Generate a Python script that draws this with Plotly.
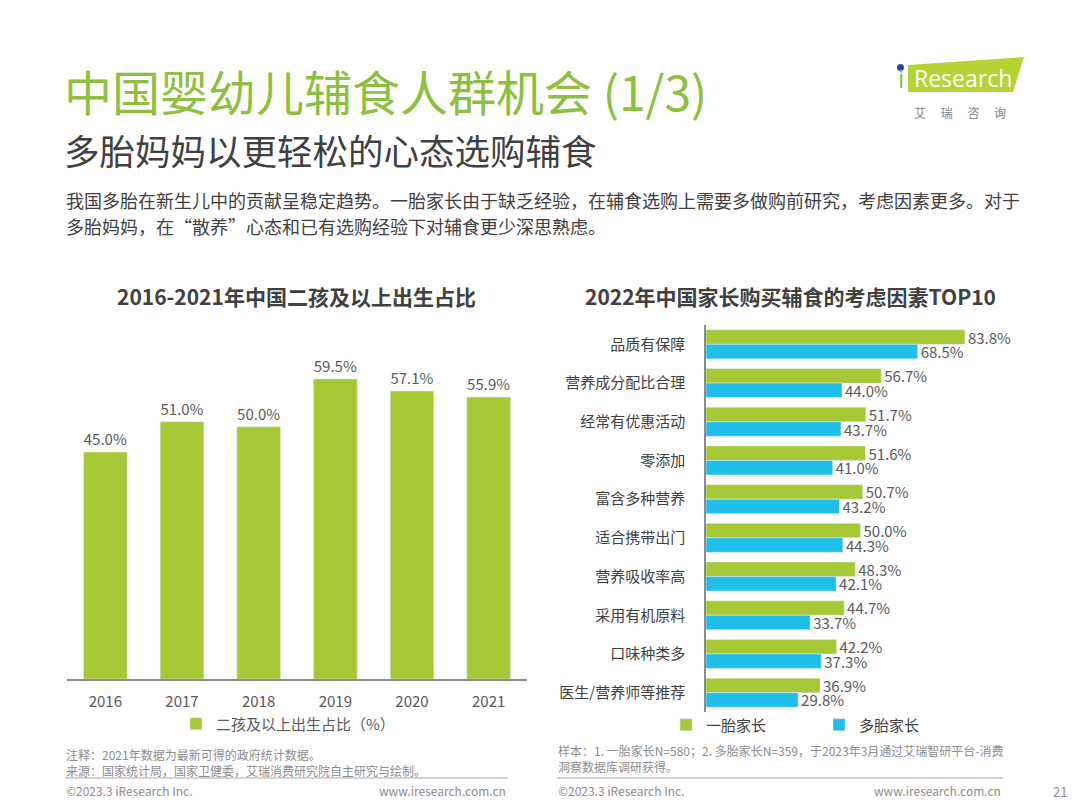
import plotly.graph_objects as go

# ---- data ----
years = ["2016", "2017", "2018", "2019", "2020", "2021"]
second_child_share = [45.0, 51.0, 50.0, 59.5, 57.1, 55.9]

factors = ["品质有保障", "营养成分配比合理", "经常有优惠活动", "零添加", "富含多种营养",
           "适合携带出门", "营养吸收率高", "采用有机原料", "口味种类多", "医生/营养师等推荐"]
first_child_parents = [83.8, 56.7, 51.7, 51.6, 50.7, 50.0, 48.3, 44.7, 42.2, 36.9]
multi_child_parents = [68.5, 44.0, 43.7, 41.0, 43.2, 44.3, 42.1, 33.7, 37.3, 29.8]

GREEN = "#A5C834"
BLUE = "#20BFEA"
TITLE_GREEN = "#8DC03F"
DARK = "#404040"
GRAY = "#595959"
LIGHT = "#8C8C8C"
FONT = "Noto Sans CJK SC"

# the page body keeps an 8px margin, so the figure is 8px smaller and
# every position is given in window pixels and shifted back here
OFF = 8
W, H = 1080 - OFF, 810 - OFF


def px(x):
    return (x - OFF) / W


def py(y):
    return 1 - (y - OFF) / H


fig = go.Figure()

fig.add_trace(go.Bar(
    x=years, y=second_child_share, name="二孩及以上出生占比（%）",
    marker_color=GREEN, text=[f"{v:.1f}%" for v in second_child_share],
    textposition="outside", textfont=dict(size=15, color=GRAY),
    width=0.57, cliponaxis=False, xaxis="x", yaxis="y",
    legend="legend", showlegend=True,
))

fig.add_trace(go.Bar(
    y=factors, x=first_child_parents, name="一胎家长", orientation="h",
    marker_color=GREEN, text=[f"{v:.1f}%" for v in first_child_parents],
    textposition="outside", textfont=dict(size=15, color=GRAY),
    constraintext="none", cliponaxis=False, xaxis="x2", yaxis="y2",
    legend="legend2", showlegend=True,
))
fig.add_trace(go.Bar(
    y=factors, x=multi_child_parents, name="多胎家长", orientation="h",
    marker_color=BLUE, text=[f"{v:.1f}%" for v in multi_child_parents],
    textposition="outside", textfont=dict(size=15, color=GRAY),
    constraintext="none", cliponaxis=False, xaxis="x2", yaxis="y2",
    legend="legend2", showlegend=True,
))

fig.update_layout(
    width=W, height=H,
    margin=dict(l=0, r=0, t=0, b=0),
    paper_bgcolor="white", plot_bgcolor="white",
    font=dict(family=FONT, color=GRAY),
    showlegend=True,
    barmode="group", bargap=0.25, bargroupgap=0,
    xaxis=dict(domain=[px(67), px(527)], showline=True, linecolor="#8C8C8C",
               linewidth=1.5, ticks="", ticklabelstandoff=8,
               tickfont=dict(size=15, color=GRAY), showgrid=False),
    yaxis=dict(domain=[py(679), py(326)], range=[0, 70], visible=False,
               showgrid=False, zeroline=False),
    xaxis2=dict(domain=[px(706), px(1015)], range=[0, 100], visible=False,
                showgrid=False, zeroline=False),
    yaxis2=dict(domain=[py(712), py(325)], autorange="reversed", anchor="x2",
                showline=True, linecolor="#8C8C8C", linewidth=1.5, ticks="",
                ticklabelstandoff=16, tickfont=dict(size=15, color=DARK),
                showgrid=False),
    legend=dict(orientation="h", x=px(176), y=py(724), xanchor="left",
                yanchor="middle", font=dict(size=15, color=GRAY),
                itemwidth=30, bgcolor="rgba(0,0,0,0)"),
    legend2=dict(orientation="h", x=px(666), y=py(725), xanchor="left",
                 yanchor="middle", font=dict(size=15, color=DARK),
                 itemwidth=30, entrywidth=108, bgcolor="rgba(0,0,0,0)"),
)

annotations = [
    dict(x=px(62), y=py(90), text="中国婴幼儿辅食人群机会 (1/3)", xanchor="left",
         font=dict(size=48, color=TITLE_GREEN)),
    dict(x=px(62), y=py(150), text="多胎妈妈以更轻松的心态选购辅食", xanchor="left",
         font=dict(size=35.5, color=DARK)),
    dict(x=px(64), y=py(200),
         text="我国多胎在新生儿中的贡献呈稳定趋势。一胎家长由于缺乏经验，在辅食选购上需要多做购前研究，考虑因素更多。对于",
         xanchor="left", font=dict(size=18, color=DARK)),
    dict(x=px(64), y=py(226),
         text="多胎妈妈，在“散养”心态和已有选购经验下对辅食更少深思熟虑。",
         xanchor="left", font=dict(size=18, color=DARK)),
    dict(x=px(296), y=py(296), text="<b>2016-2021年中国二孩及以上出生占比</b>",
         xanchor="center", font=dict(size=21, color=DARK)),
    dict(x=px(790), y=py(296), text="<b>2022年中国家长购买辅食的考虑因素TOP10</b>",
         xanchor="center", font=dict(size=21, color=DARK)),
    # footnotes
    dict(x=px(64), y=py(754), text="注释：2021年数据为最新可得的政府统计数据。",
         xanchor="left", font=dict(size=12, color=LIGHT)),
    dict(x=px(64), y=py(770), text="来源：国家统计局，国家卫健委，艾瑞消费研究院自主研究与绘制。",
         xanchor="left", font=dict(size=12, color=LIGHT)),
    dict(x=px(556), y=py(750),
         text="样本：1. 一胎家长N=580；2. 多胎家长N=359，于2023年3月通过艾瑞智研平台-消费",
         xanchor="left", font=dict(size=12, color=LIGHT)),
    dict(x=px(556), y=py(766), text="洞察数据库调研获得。",
         xanchor="left", font=dict(size=12, color=LIGHT)),
    dict(x=px(64), y=py(790), text="©2023.3 iResearch Inc.", xanchor="left",
         font=dict(size=12, color=LIGHT)),
    dict(x=px(508), y=py(790), text="www.iresearch.com.cn", xanchor="right",
         font=dict(size=12, color=LIGHT)),
    dict(x=px(556), y=py(790), text="©2023.3 iResearch Inc.", xanchor="left",
         font=dict(size=12, color=LIGHT)),
    dict(x=px(1003), y=py(790), text="www.iresearch.com.cn", xanchor="right",
         font=dict(size=12, color=LIGHT)),
    dict(x=px(1060), y=py(791), text="21", xanchor="center",
         font=dict(size=13, color=LIGHT)),
    # logo
    dict(x=px(901), y=py(78), text="i", xanchor="center",
         font=dict(size=25, color=TITLE_GREEN, family="Open Sans")),
    dict(x=px(963), y=py(78), text="Research", xanchor="center",
         font=dict(size=23, color="white", family="Open Sans")),
    dict(x=px(960), y=py(112), text="艾　 瑞　 咨　 询", xanchor="center",
         font=dict(size=12, color="#7F7F7F")),
]
for a in annotations:
    a.update(xref="paper", yref="paper", showarrow=False, yanchor="middle")
fig.update_layout(annotations=annotations)

shapes = [
    dict(type="line", x0=px(65), x1=px(508), y0=py(778), y1=py(778),
         line=dict(color="#A6A6A6", width=1)),
    dict(type="line", x0=px(557), x1=px(1003), y0=py(778), y1=py(778),
         line=dict(color="#A6A6A6", width=1)),
    dict(type="path",
         path=f"M {px(908)} {py(65)} L {px(1024)} {py(57)} L {px(1013)} {py(92)} L {px(908)} {py(92)} Z",
         fillcolor="#B5D334", line=dict(width=0), layer="below"),
    dict(type="circle", x0=px(897), x1=px(904), y0=py(64), y1=py(71),
         fillcolor="#1F4FA0", line=dict(width=0)),
]
for s in shapes:
    s.update(xref="paper", yref="paper")
fig.update_layout(shapes=shapes)

fig.write_html("out.html")
